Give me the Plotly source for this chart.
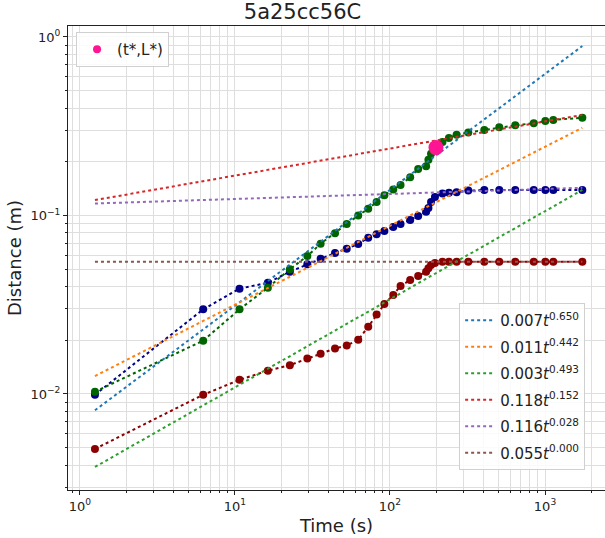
import plotly.graph_objects as go

# ---- data ----
t = [1.25, 6.24, 10.7, 16.3, 22.6, 29.3, 35.7, 44.2, 52.6, 62.4, 72.4, 82.0, 92.0,
     105, 117, 135, 152, 171, 177, 184, 195, 218, 240, 269, 320, 406, 507, 643,
     846, 1005, 1131, 1741]

dist_navy = [0.0099, 0.0298, 0.0389, 0.0420, 0.0484, 0.0533, 0.0573, 0.0616, 0.0652,
             0.0692, 0.0751, 0.0785, 0.0819, 0.0862, 0.0896, 0.0944, 0.0994, 0.105,
             0.110, 0.119, 0.127, 0.133, 0.134, 0.135, 0.138, 0.139, 0.139, 0.139,
             0.139, 0.139, 0.139, 0.139]

dist_green = [0.0103, 0.0199, 0.0298, 0.0394, 0.050, 0.0593, 0.0695, 0.0795, 0.0896,
              0.100, 0.109, 0.119, 0.130, 0.140, 0.148, 0.164, 0.182, 0.189, 0.205,
              0.222, 0.236, 0.258, 0.272, 0.283, 0.292, 0.301, 0.312, 0.320, 0.329,
              0.338, 0.343, 0.353]

dist_red = [0.00492, 0.0099, 0.0120, 0.0135, 0.0145, 0.0158, 0.0168, 0.0180, 0.0187,
            0.0201, 0.0238, 0.0279, 0.0319, 0.0359, 0.0403, 0.0435, 0.0458, 0.0484,
            0.0506, 0.0528, 0.0542, 0.0551, 0.0551, 0.0551, 0.0551, 0.0551, 0.0551,
            0.0551, 0.0551, 0.0551, 0.0551, 0.0551]

t_star = [198]
L_star = [0.240]

fit_t = [1.25, 1741]
fit_labels = ["0.007<i>t</i><sup>0.650</sup>", "0.011<i>t</i><sup>0.442</sup>",
              "0.003<i>t</i><sup>0.493</sup>", "0.118<i>t</i><sup>0.152</sup>",
              "0.116<i>t</i><sup>0.028</sup>", "0.055<i>t</i><sup>0.000</sup>"]
fit_y = [[0.0081, 0.89], [0.0126, 0.31], [0.0039, 0.139],
         [0.122, 0.366], [0.1167, 0.143], [0.055, 0.055]]
fit_colors = ["#1f77b4", "#ff7f0e", "#2ca02c", "#d62728", "#9467bd", "#8c564b"]

x_major = [1, 10, 100, 1000]
x_major_text = ["10<sup>0</sup>", "10<sup>1</sup>", "10<sup>2</sup>", "10<sup>3</sup>"]
y_major = [0.01, 0.1, 1]
y_major_text = ["10<sup>−2</sup>", "10<sup>−1</sup>", "10<sup>0</sup>"]

x_minor = [k * 10 ** e for e in range(-1, 4) for k in range(2, 10)]
y_minor = [k * 10 ** e for e in range(-3, 1) for k in range(2, 10)]

fig = go.Figure()

for ys, col in [(dist_navy, "#00008b"), (dist_green, "#006400"), (dist_red, "#8b0000")]:
    fig.add_trace(go.Scatter(x=t, y=ys, mode="lines+markers",
                             line=dict(color=col, width=2, dash="3px,3px"),
                             marker=dict(color=col, size=8),
                             showlegend=False))

for i, (lab, ys, col) in enumerate(zip(fit_labels, fit_y, fit_colors)):
    fig.add_trace(go.Scatter(x=fit_t, y=ys, mode="lines", name=lab,
                             line=dict(color=col, width=2, dash="3px,3px"),
                             legend="legend2", legendgroup="g%d" % i))

fig.add_trace(go.Scatter(x=t_star, y=L_star, mode="markers", name="(t*,L*)",
                         marker=dict(color="#ff1493", size=15),
                         showlegend=False))
# legend entry with a small marker, as in the reference
fig.add_trace(go.Scatter(x=[None], y=[None], mode="markers", name="(t*,L*)",
                         marker=dict(color="#ff1493", size=8),
                         legend="legend"))

grid_col = "#dedede"
fig.update_layout(
    width=605, height=538,
    margin=dict(l=68, r=0, t=26, b=48),
    paper_bgcolor="white", plot_bgcolor="white",
    font=dict(family="DejaVu Sans", color="#222"),
    title=dict(text="5a25cc56C", x=0.5, xref="container", y=1 - 12 / 538,
               yref="container", xanchor="center", yanchor="middle",
               font=dict(size=21, color="#222")),
    xaxis=dict(type="log", range=[-0.077, 3.387],
               tickmode="array", tickvals=x_major, ticktext=x_major_text,
               ticks="outside", ticklen=4, tickcolor="#222",
               showgrid=True, gridcolor=grid_col, gridwidth=1,
               minor=dict(tickmode="array", tickvals=x_minor, ticks="outside",
                          ticklen=2, tickcolor="#222", showgrid=True,
                          gridcolor=grid_col, gridwidth=1),
               showline=True, linecolor="#222", linewidth=1, mirror=True,
               zeroline=False, tickfont=dict(size=13),
               title=dict(text="Time (s)", font=dict(size=18), standoff=6)),
    yaxis=dict(type="log", range=[-2.538, 0.0616],
               tickmode="array", tickvals=y_major, ticktext=y_major_text,
               ticks="outside", ticklen=4, tickcolor="#222",
               showgrid=True, gridcolor=grid_col, gridwidth=1,
               minor=dict(tickmode="array", tickvals=y_minor, ticks="outside",
                          ticklen=2, tickcolor="#222", showgrid=True,
                          gridcolor=grid_col, gridwidth=1),
               showline=True, linecolor="#222", linewidth=1, mirror=False,
               zeroline=False, tickfont=dict(size=13),
               title=dict(text="Distance (m)", font=dict(size=18), standoff=4)),
    legend=dict(x=0.015, y=0.987, xanchor="left", yanchor="top",
                bgcolor="rgba(255,255,255,0.85)", bordercolor="#d0d0d0",
                borderwidth=1, font=dict(size=15)),
    legend2=dict(x=0.963, y=0.043, xanchor="right", yanchor="bottom",
                 bgcolor="rgba(255,255,255,0.85)", bordercolor="#d0d0d0",
                 borderwidth=1, font=dict(size=15), tracegroupgap=4),
)

fig.write_html("out.html")
